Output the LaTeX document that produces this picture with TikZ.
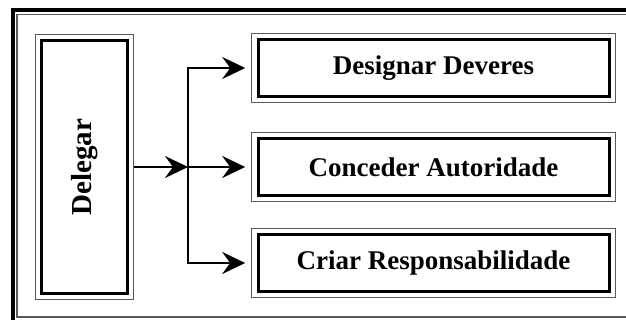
\documentclass[tikz,border=0pt]{standalone}
\usepackage{fontspec}
\setmainfont{Liberation Serif}
\usepackage{graphicx}
\usetikzlibrary{arrows.meta}
\tikzstyle{caixa} = [rectangle, draw=black, line width=3pt, fill=white, inner sep=0pt, outer sep=6.8pt, font=\fontsize{27}{30}\selectfont\bfseries, align=center, preaction={draw=black!65, line width=13.7pt}, preaction={draw=white, line width=11.3pt}]
\tikzstyle{tarefa} = [caixa, minimum width=351pt, minimum height=57pt]
\tikzstyle{seta} = [-{Stealth[length=23pt,width=22pt,inset=8pt]}, line width=2.3pt]

\begin{document}
\begin{tikzpicture}[x=1pt,y=-1pt]
\useasboundingbox (0,0) rectangle (626,320);
\clip (0,0) rectangle (626,320);
% moldura
\draw[line width=4pt] (13,330) -- (13,10) -- (640,10);
\draw[line width=1.2pt, black!65] (17,317) rectangle (640,14.5);
% caixas
\node[caixa, minimum width=86pt, minimum height=252pt, font=\fontsize{29}{32}\selectfont\bfseries] (dl) at (84.5,167) {\rotatebox{90}{Delegar}};
\node[tarefa] (dd) at (433.5,68) {Designar Deveres};
\node[tarefa] (ca) at (433.5,167) {Conceder Autoridade};
\node[tarefa] (cr) at (433.5,263) {Criar Responsabilidade};
% setas
\coordinate (ramo) at (188,0);
\draw[seta] (dl.east) -- (dl.east -| ramo);
\draw[seta, shorten >=6pt] (ramo |- ca.west) -- (ramo |- dd.west) -- (dd.west);
\draw[seta, shorten >=6pt] (ramo |- ca.west) -- (ramo |- cr.west) -- (cr.west);
\draw[seta, shorten >=6pt] (ramo |- ca.west) -- (ca.west);
\end{tikzpicture}
\end{document}
